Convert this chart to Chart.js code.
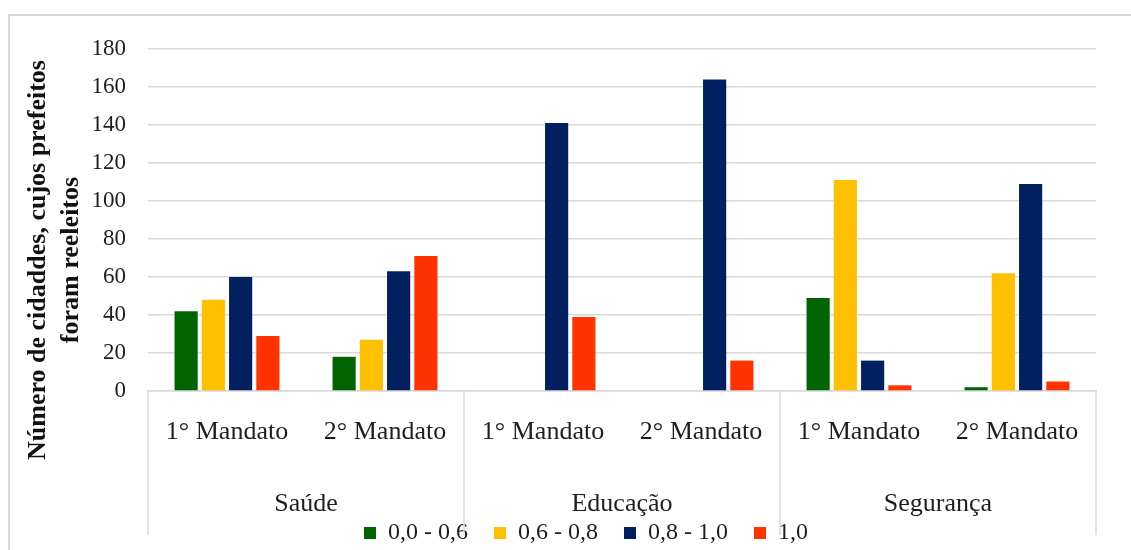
<!DOCTYPE html>
<html>
<head>
<meta charset="utf-8">
<script src="https://cdn.jsdelivr.net/npm/chart.js@4.4.1/dist/chart.umd.min.js"></script>
<style>
  body { margin: 0; background: #fff; }
  #moldura { position: absolute; left: 8px; top: 14px; width: 1140px; height: 560px;
             border-top: 2px solid #d9d9d9; border-left: 2px solid #d9d9d9; }
  #caixa { position: absolute; left: 0; top: 0; width: 1131px; height: 550px; }
</style>
</head>
<body>
<div id="moldura"></div>
<div id="caixa"><canvas id="grafico"></canvas></div>
<script>
// dados
const mandatos = ["1° Mandato", "2° Mandato", "1° Mandato", "2° Mandato", "1° Mandato", "2° Mandato"];
const areas = ["Saúde", "Educação", "Segurança"];
const faixa1 = [42, 18, 0, 0, 49, 2];      // 0,0 - 0,6
const faixa2 = [48, 27, 0, 0, 111, 62];    // 0,6 - 0,8
const faixa3 = [60, 63, 141, 164, 16, 109]; // 0,8 - 1,0
const faixa4 = [29, 71, 39, 16, 3, 5];     // 1,0
const ticksY = [0, 20, 40, 60, 80, 100, 120, 140, 160, 180];
const tituloY = ["Número de cidaddes, cujos prefeitos", "foram reeleitos"];

const fonte = "'Liberation Serif', 'Times New Roman', serif";
const cinza = "#d9d9d9";
const corTexto = "#1e1e1e";

// separadores das areas, nomes das areas e titulo do eixo y
const extras = {
    id: "extras",
    afterLayout(chart) {
        // a legenda do original fica um pouco deslocada para a direita
        chart.legend.left += 38;
        chart.legend.right += 38;
    },
    afterDraw(chart) {
        const ctx = chart.ctx;
        const x = chart.scales.x;
        const area = chart.chartArea;
        const passo = x.width / areas.length;
        ctx.save();
        ctx.strokeStyle = cinza;
        ctx.lineWidth = 1.5;
        for (let i = 0; i <= areas.length; i++) {
            const px = x.left + i * passo;
            ctx.beginPath();
            ctx.moveTo(px, area.bottom);
            ctx.lineTo(px, 535);
            ctx.stroke();
        }
        ctx.fillStyle = corTexto;
        ctx.font = "26px " + fonte;
        ctx.textAlign = "center";
        ctx.textBaseline = "middle";
        areas.forEach((nome, i) => {
            ctx.fillText(nome, x.left + (i + 0.5) * passo, area.bottom + 113);
        });
        // titulo do eixo y
        ctx.fillStyle = "#111";
        ctx.font = "bold 26px " + fonte;
        ctx.translate(0, (area.top + area.bottom) / 2 + 40);
        ctx.rotate(-Math.PI / 2);
        ctx.fillText(tituloY[0], 0, area.left - 110);
        ctx.fillText(tituloY[1], 0, area.left - 77);
        ctx.restore();
    }
};

const ctx = document.querySelector("#grafico").getContext("2d");
new Chart(ctx, {
    type: "bar",
    data: {
        labels: mandatos,
        datasets: [
            { label: "0,0 - 0,6", data: faixa1, backgroundColor: "#006400" },
            { label: "0,6 - 0,8", data: faixa2, backgroundColor: "#FFC000" },
            { label: "0,8 - 1,0", data: faixa3, backgroundColor: "#002060" },
            { label: "1,0", data: faixa4, backgroundColor: "#FF3300" }
        ]
    },
    options: {
        responsive: true,
        maintainAspectRatio: false,
        animation: false,
        datasets: { bar: { barPercentage: 0.85, categoryPercentage: 0.69 } },
        layout: { padding: { top: 49, right: 35, bottom: -5, left: 0 } },
        plugins: {
            tooltip: { enabled: false },
            legend: {
                position: "bottom",
                labels: {
                    boxWidth: 12, boxHeight: 12, padding: 26,
                    color: corTexto,
                    font: { family: fonte, size: 24 }
                }
            }
        },
        scales: {
            x: {
                grid: { display: false, drawTicks: false },
                border: { display: true, color: cinza, width: 1.5 },
                ticks: { color: corTexto, padding: 26, autoSkip: false, maxRotation: 0,
                         font: { family: fonte, size: 26 } },
                afterFit: (s) => { s.height = 104; }
            },
            y: {
                min: 0, max: 180,
                afterBuildTicks: (s) => { s.ticks = ticksY.map(v => ({ value: v })); },
                grid: { color: cinza, lineWidth: 1.5, drawTicks: false },
                border: { display: false },
                ticks: { color: corTexto, padding: 22, font: { family: fonte, size: 23 } },
                afterFit: (s) => { s.width = 148; }
            }
        }
    },
    plugins: [extras]
});
</script>
</body>
</html>
